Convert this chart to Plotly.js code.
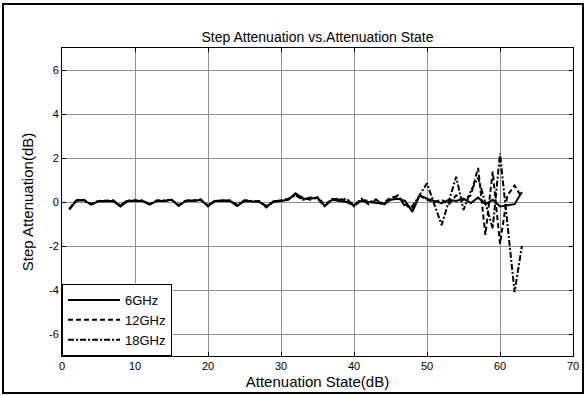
<!DOCTYPE html>
<html>
<head>
<meta charset="utf-8">
<script src="https://cdn.plot.ly/plotly-3.0.1.min.js"></script>
<style>
html,body{margin:0;padding:0;background:#fff;}
#wrap{position:relative;width:586px;height:396px;}
#chart{width:586px;height:396px;}
#frame{position:absolute;left:2px;top:3px;width:578px;height:387px;border:2px solid #000;pointer-events:none;}
</style>
</head>
<body>
<div id="wrap"><div id="chart"></div><div id="frame"></div></div>
<script>
const states = [1,2,3,4,5,6,7,8,9,10,11,12,13,14,15,16,17,18,19,20,21,22,23,24,25,26,27,28,29,30,31,32,33,34,35,36,37,38,39,40,41,42,43,44,45,46,47,48,49,50,51,52,53,54,55,56,57,58,59,60,61,62,63];
const step6GHz = [-0.35,0.08,0.08,-0.12,0.03,0.05,0.05,-0.2,0.05,0.05,0.05,-0.12,0.05,0.05,0.1,-0.18,0.07,0.05,0.1,-0.18,0.05,0.05,0.05,-0.18,0.05,0.02,0.0,-0.2,0.0,0.05,0.1,0.4,0.15,0.15,0.2,-0.18,0.1,0.05,0.0,-0.15,0.05,0.0,-0.05,-0.08,0.1,0.15,0.05,-0.45,0.3,0.15,0.05,-0.05,0.1,0.05,0.15,-0.05,0.2,-0.1,0.1,-0.2,-0.15,-0.1,0.45];
const step12GHz = [-0.3,0.05,0.1,-0.1,0.05,0.05,0.08,-0.18,0.05,0.08,0.05,-0.1,0.08,0.05,0.1,-0.15,0.05,0.08,0.12,-0.2,0.08,0.05,0.08,-0.15,0.05,0.05,0.02,-0.18,0.03,0.08,0.12,0.35,0.2,0.1,0.22,-0.12,0.12,0.15,0.05,-0.1,0.1,0.05,0.0,-0.05,0.2,0.25,-0.1,-0.3,0.3,0.1,0.0,0.1,-0.1,0.3,0.1,0.3,1.55,-1.5,1.38,-1.9,0.3,0.75,0.2];
const step18GHz = [-0.32,0.1,0.05,-0.1,0.05,0.03,0.05,-0.15,0.08,0.05,0.08,-0.1,0.05,0.08,0.1,-0.15,0.08,0.05,0.08,-0.15,0.05,0.08,0.05,-0.12,0.08,0.05,0.05,-0.25,0.05,0.05,0.15,0.3,0.1,0.2,0.15,-0.2,0.15,0.1,0.15,-0.2,0.15,-0.1,0.12,-0.15,0.1,0.3,-0.2,-0.2,0.3,0.85,-0.1,-1.05,0.05,1.15,-0.36,0.5,1.1,0.0,-1.2,2.2,-1.0,-4.1,-2.0];
const legendNames = ['6GHz','12GHz','18GHz'];
const xTicks = [0,10,20,30,40,50,60,70];
const yTicks = [-6,-4,-2,0,2,4,6];
const yTickText = ['-6','-4','-2','0','2','4','6'];

const F = 'Liberation Sans, Arial, Helvetica, sans-serif';
const traces = [
  {x: states, y: step6GHz, name: legendNames[0], mode: 'lines', line: {color: '#000', width: 2, dash: 'solid'}},
  {x: states, y: step12GHz, name: legendNames[1], mode: 'lines', line: {color: '#000', width: 2, dash: '5px,3px'}},
  {x: states, y: step18GHz, name: legendNames[2], mode: 'lines', line: {color: '#000', width: 2, dash: '6px,2px,2px,2px'}}
];
const axisCommon = {
  showline: true, linecolor: '#000', linewidth: 1, mirror: 'ticks',
  ticks: 'inside', ticklen: 4, tickcolor: '#000',
  showgrid: true, gridcolor: '#909090', gridwidth: 1, zeroline: false,
  tickfont: {family: F, size: 11, color: '#000'}
};
const layout = {
  width: 586, height: 396,
  margin: {l: 62, r: 13, t: 48, b: 40},
  paper_bgcolor: '#fff', plot_bgcolor: '#fff',
  font: {family: F, color: '#000'},
  title: {text: 'Step Attenuation vs.Attenuation State', font: {family: F, size: 14, color: '#000'}, x: 0.5, xref: 'paper', xanchor: 'center', y: 1 - 37/396, yref: 'container', yanchor: 'middle'},
  xaxis: Object.assign({}, axisCommon, {range: [0, 70], tickvals: xTicks, title: {text: 'Attenuation State(dB)', font: {family: F, size: 15, color: '#000'}, standoff: 5}}),
  yaxis: Object.assign({}, axisCommon, {range: [-7, 7], tickvals: yTicks, ticktext: yTickText, title: {text: 'Step Attenuation(dB)', font: {family: F, size: 15, color: '#000'}, standoff: 11}}),
  showlegend: true,
  legend: {x: 0, y: 0, xanchor: 'left', yanchor: 'bottom', bgcolor: '#fff', bordercolor: '#000', borderwidth: 1, font: {family: F, size: 13, color: '#000'}, tracegroupgap: 0, itemwidth: 52}
};
Plotly.newPlot('chart', traces, layout, {displayModeBar: false, staticPlot: true});
</script>
</body>
</html>
